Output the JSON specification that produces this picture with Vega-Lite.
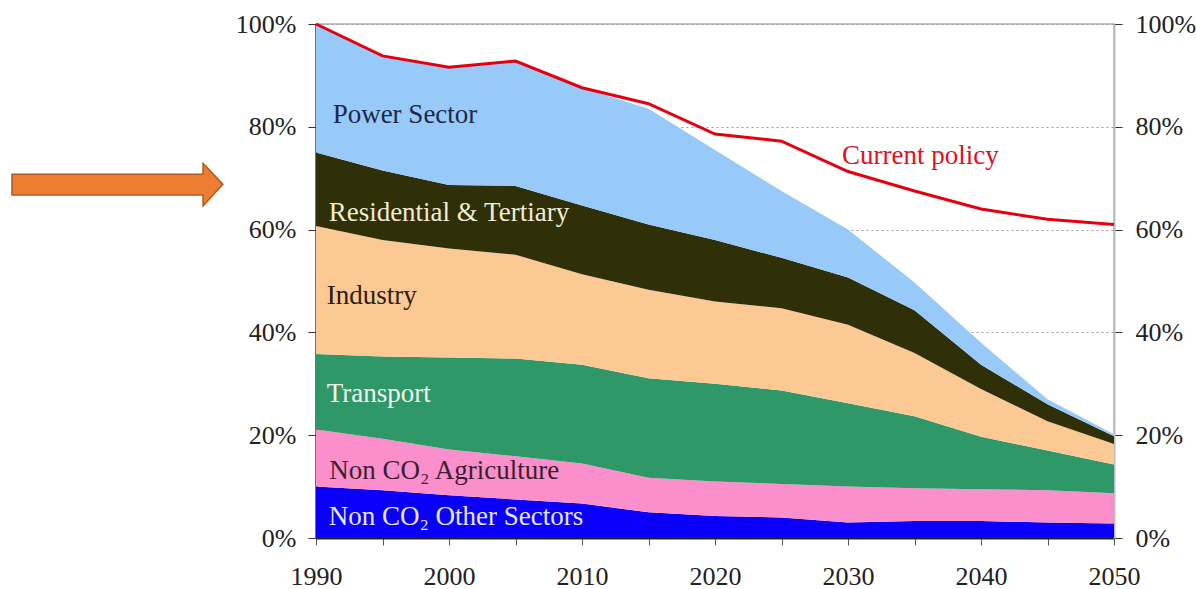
{
  "$schema": "https://vega.github.io/schema/vega-lite/v6.json",
  "width": 798,
  "height": 514,
  "autosize": {"type": "none"},
  "padding": {"left": 316, "top": 24, "right": 82, "bottom": 51},
  "background": "white",
  "view": {"stroke": "#c4c4c4", "strokeWidth": 2},
  "config": {
    "axis": {"labelFont": "Liberation Serif", "labelFontSize": 26, "labelColor": "#222222", "title": null}
  },
  "datasets": {
    "sectors": [
      {"year": 1990, "sector": "Non CO₂ Other Sectors", "k": 1, "v": 10.0},
      {"year": 1990, "sector": "Non CO₂ Agriculture", "k": 2, "v": 11.1},
      {"year": 1990, "sector": "Transport", "k": 3, "v": 14.7},
      {"year": 1990, "sector": "Industry", "k": 4, "v": 24.9},
      {"year": 1990, "sector": "Residential & Tertiary", "k": 5, "v": 14.3},
      {"year": 1990, "sector": "Power Sector", "k": 6, "v": 25.0},
      {"year": 1995, "sector": "Non CO₂ Other Sectors", "k": 1, "v": 9.3},
      {"year": 1995, "sector": "Non CO₂ Agriculture", "k": 2, "v": 10.0},
      {"year": 1995, "sector": "Transport", "k": 3, "v": 16.0},
      {"year": 1995, "sector": "Industry", "k": 4, "v": 22.7},
      {"year": 1995, "sector": "Residential & Tertiary", "k": 5, "v": 13.5},
      {"year": 1995, "sector": "Power Sector", "k": 6, "v": 22.3},
      {"year": 2000, "sector": "Non CO₂ Other Sectors", "k": 1, "v": 8.3},
      {"year": 2000, "sector": "Non CO₂ Agriculture", "k": 2, "v": 8.9},
      {"year": 2000, "sector": "Transport", "k": 3, "v": 17.9},
      {"year": 2000, "sector": "Industry", "k": 4, "v": 21.2},
      {"year": 2000, "sector": "Residential & Tertiary", "k": 5, "v": 12.4},
      {"year": 2000, "sector": "Power Sector", "k": 6, "v": 22.9},
      {"year": 2005, "sector": "Non CO₂ Other Sectors", "k": 1, "v": 7.5},
      {"year": 2005, "sector": "Non CO₂ Agriculture", "k": 2, "v": 8.4},
      {"year": 2005, "sector": "Transport", "k": 3, "v": 19.0},
      {"year": 2005, "sector": "Industry", "k": 4, "v": 20.2},
      {"year": 2005, "sector": "Residential & Tertiary", "k": 5, "v": 13.4},
      {"year": 2005, "sector": "Power Sector", "k": 6, "v": 24.3},
      {"year": 2010, "sector": "Non CO₂ Other Sectors", "k": 1, "v": 6.7},
      {"year": 2010, "sector": "Non CO₂ Agriculture", "k": 2, "v": 7.8},
      {"year": 2010, "sector": "Transport", "k": 3, "v": 19.2},
      {"year": 2010, "sector": "Industry", "k": 4, "v": 17.6},
      {"year": 2010, "sector": "Residential & Tertiary", "k": 5, "v": 13.4},
      {"year": 2010, "sector": "Power Sector", "k": 6, "v": 22.9},
      {"year": 2015, "sector": "Non CO₂ Other Sectors", "k": 1, "v": 5.0},
      {"year": 2015, "sector": "Non CO₂ Agriculture", "k": 2, "v": 6.7},
      {"year": 2015, "sector": "Transport", "k": 3, "v": 19.4},
      {"year": 2015, "sector": "Industry", "k": 4, "v": 17.2},
      {"year": 2015, "sector": "Residential & Tertiary", "k": 5, "v": 12.7},
      {"year": 2015, "sector": "Power Sector", "k": 6, "v": 22.5},
      {"year": 2020, "sector": "Non CO₂ Other Sectors", "k": 1, "v": 4.3},
      {"year": 2020, "sector": "Non CO₂ Agriculture", "k": 2, "v": 6.7},
      {"year": 2020, "sector": "Transport", "k": 3, "v": 19.0},
      {"year": 2020, "sector": "Industry", "k": 4, "v": 16.0},
      {"year": 2020, "sector": "Residential & Tertiary", "k": 5, "v": 12.0},
      {"year": 2020, "sector": "Power Sector", "k": 6, "v": 17.5},
      {"year": 2025, "sector": "Non CO₂ Other Sectors", "k": 1, "v": 4.0},
      {"year": 2025, "sector": "Non CO₂ Agriculture", "k": 2, "v": 6.5},
      {"year": 2025, "sector": "Transport", "k": 3, "v": 18.2},
      {"year": 2025, "sector": "Industry", "k": 4, "v": 16.0},
      {"year": 2025, "sector": "Residential & Tertiary", "k": 5, "v": 9.8},
      {"year": 2025, "sector": "Power Sector", "k": 6, "v": 13.0},
      {"year": 2030, "sector": "Non CO₂ Other Sectors", "k": 1, "v": 3.0},
      {"year": 2030, "sector": "Non CO₂ Agriculture", "k": 2, "v": 7.0},
      {"year": 2030, "sector": "Transport", "k": 3, "v": 16.2},
      {"year": 2030, "sector": "Industry", "k": 4, "v": 15.3},
      {"year": 2030, "sector": "Residential & Tertiary", "k": 5, "v": 9.2},
      {"year": 2030, "sector": "Power Sector", "k": 6, "v": 9.3},
      {"year": 2035, "sector": "Non CO₂ Other Sectors", "k": 1, "v": 3.3},
      {"year": 2035, "sector": "Non CO₂ Agriculture", "k": 2, "v": 6.4},
      {"year": 2035, "sector": "Transport", "k": 3, "v": 14.0},
      {"year": 2035, "sector": "Industry", "k": 4, "v": 12.3},
      {"year": 2035, "sector": "Residential & Tertiary", "k": 5, "v": 8.3},
      {"year": 2035, "sector": "Power Sector", "k": 6, "v": 5.4},
      {"year": 2040, "sector": "Non CO₂ Other Sectors", "k": 1, "v": 3.3},
      {"year": 2040, "sector": "Non CO₂ Agriculture", "k": 2, "v": 6.2},
      {"year": 2040, "sector": "Transport", "k": 3, "v": 10.2},
      {"year": 2040, "sector": "Industry", "k": 4, "v": 9.3},
      {"year": 2040, "sector": "Residential & Tertiary", "k": 5, "v": 4.7},
      {"year": 2040, "sector": "Power Sector", "k": 6, "v": 4.3},
      {"year": 2045, "sector": "Non CO₂ Other Sectors", "k": 1, "v": 3.0},
      {"year": 2045, "sector": "Non CO₂ Agriculture", "k": 2, "v": 6.3},
      {"year": 2045, "sector": "Transport", "k": 3, "v": 7.7},
      {"year": 2045, "sector": "Industry", "k": 4, "v": 5.7},
      {"year": 2045, "sector": "Residential & Tertiary", "k": 5, "v": 3.3},
      {"year": 2045, "sector": "Power Sector", "k": 6, "v": 1.0},
      {"year": 2050, "sector": "Non CO₂ Other Sectors", "k": 1, "v": 2.8},
      {"year": 2050, "sector": "Non CO₂ Agriculture", "k": 2, "v": 5.9},
      {"year": 2050, "sector": "Transport", "k": 3, "v": 5.6},
      {"year": 2050, "sector": "Industry", "k": 4, "v": 4.0},
      {"year": 2050, "sector": "Residential & Tertiary", "k": 5, "v": 1.5},
      {"year": 2050, "sector": "Power Sector", "k": 6, "v": 0.4}
    ],
    "policy": [
      {"year": 1990, "p": 100},
      {"year": 1995, "p": 93.8},
      {"year": 2000, "p": 91.6},
      {"year": 2005, "p": 92.8},
      {"year": 2010, "p": 87.6},
      {"year": 2015, "p": 84.5},
      {"year": 2020, "p": 78.6},
      {"year": 2025, "p": 77.2},
      {"year": 2030, "p": 71.3},
      {"year": 2035, "p": 67.5},
      {"year": 2040, "p": 64.0},
      {"year": 2045, "p": 62.0},
      {"year": 2050, "p": 61.0}
    ],
    "labels": [
      {"sector": "Power Sector", "year": 1991.25, "p": 80.7},
      {"sector": "Residential & Tertiary", "year": 1990.95, "p": 61.6},
      {"sector": "Industry", "year": 1990.8, "p": 45.6},
      {"sector": "Transport", "year": 1990.8, "p": 26.5},
      {"sector": "Non CO₂ Agriculture", "year": 1991.0, "p": 11.4},
      {"sector": "Non CO₂ Other Sectors", "year": 1990.95, "p": 2.6},
      {"sector": "Current policy", "year": 2029.55, "p": 72.8}
    ],
    "arrow": [
      {"year": 1967.14, "lo": 66.73, "hi": 70.76},
      {"year": 1981.5, "lo": 66.73, "hi": 70.76},
      {"year": 1981.51, "lo": 64.6, "hi": 72.9},
      {"year": 1983.0, "lo": 68.8, "hi": 68.8}
    ]
  },
  "encoding": {
    "x": {
      "field": "year", "type": "quantitative",
      "scale": {"domain": [1990, 2050], "nice": false, "zero": false},
      "axis": {
        "values": [1990, 1995, 2000, 2005, 2010, 2015, 2020, 2025, 2030, 2035, 2040, 2045, 2050],
        "format": "d",
        "labelExpr": "datum.value % 10 === 0 ? datum.label : ''",
        "labelOverlap": false, "labelFlush": false,
        "grid": false,
        "domainColor": "#222222", "domainWidth": 2,
        "tickColor": "#555555", "tickSize": 7, "tickWidth": 1,
        "labelPadding": 18
      }
    }
  },
  "layer": [
    {
      "data": {"name": "sectors"},
      "mark": {"type": "area", "interpolate": "linear"},
      "encoding": {
        "y": {
          "field": "v", "type": "quantitative", "stack": "zero",
          "scale": {"domain": [0, 100], "nice": false},
          "axis": {
            "orient": "left",
            "values": [0, 20, 40, 60, 80, 100],
            "labelExpr": "datum.value + '%'",
            "grid": true, "gridColor": "#9a9a9a", "gridDash": [2, 3], "gridWidth": 1,
            "domainColor": "#222222", "domainWidth": 2,
            "tickColor": "#333333", "tickSize": 8,
            "labelPadding": 12
          }
        },
        "color": {
          "field": "sector", "type": "nominal",
          "scale": {
            "domain": ["Non CO₂ Other Sectors", "Non CO₂ Agriculture", "Transport", "Industry", "Residential & Tertiary", "Power Sector"],
            "range": ["#0a00fa", "#fb8fcb", "#2f9868", "#fcc994", "#2f2f08", "#97c9f9"]
          },
          "legend": null
        },
        "order": {"field": "k", "type": "quantitative", "sort": "ascending"}
      }
    },
    {
      "data": {"name": "policy"},
      "mark": {"type": "line", "color": "#e5000f", "strokeWidth": 3},
      "encoding": {
        "y": {
          "field": "p", "type": "quantitative",
          "axis": {
            "orient": "right",
            "values": [0, 20, 40, 60, 80, 100],
            "labelExpr": "datum.value + '%'",
            "grid": false,
            "domainColor": "#bdbdbd", "domainWidth": 2,
            "tickColor": "#333333", "tickSize": 8,
            "labelPadding": 13
          }
        }
      }
    },
    {
      "data": {"name": "labels"},
      "mark": {"type": "text", "align": "left", "baseline": "alphabetic", "font": "Liberation Serif", "fontSize": 27},
      "encoding": {
        "y": {"field": "p", "type": "quantitative", "axis": null},
        "text": {"field": "sector"},
        "color": {
          "field": "sector", "type": "nominal",
          "scale": {
            "domain": ["Power Sector", "Residential & Tertiary", "Industry", "Transport", "Non CO₂ Agriculture", "Non CO₂ Other Sectors", "Current policy"],
            "range": ["#1c2946", "#f2eccf", "#2b1c0e", "#eef6ee", "#3a1f30", "#e6e6ff", "#e0101c"]
          },
          "legend": null
        }
      }
    },
    {
      "data": {"name": "arrow"},
      "mark": {"type": "area", "color": "#ed7d31", "stroke": "#b05a22", "strokeWidth": 1.5, "interpolate": "linear"},
      "encoding": {
        "y": {"field": "lo", "type": "quantitative", "axis": null},
        "y2": {"field": "hi"}
      }
    }
  ],
  "resolve": {"scale": {"color": "independent"}, "axis": {"y": "independent"}}
}
